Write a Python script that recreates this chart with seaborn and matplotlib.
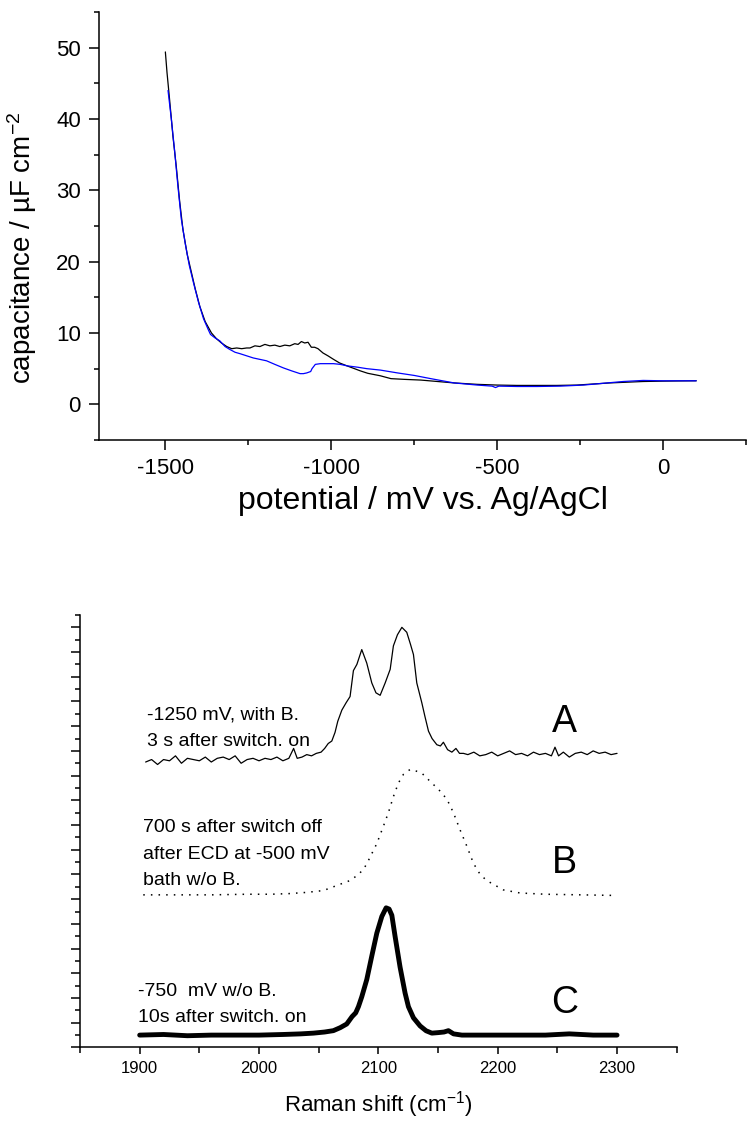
import matplotlib
matplotlib.use("Agg")
import matplotlib.pyplot as plt
import seaborn as sns
from matplotlib.ticker import MultipleLocator

# --- capacitance curves (top panel) ---
black_pot = [-1500, -1495, -1487, -1477, -1467, -1457, -1447, -1434, -1421, -1410,
             -1396, -1380, -1361, -1346, -1331, -1315, -1300, -1285, -1270, -1255,
             -1245, -1230, -1215, -1200, -1185, -1170, -1155, -1140, -1125, -1110,
             -1100, -1090, -1080, -1070, -1060, -1050, -1040, -1025, -1010, -993,
             -975, -953, -930, -913, -890, -852, -820, -780, -730, -680,
             -630, -560, -500, -440, -380, -320, -260, -210, -160, -110,
             -60, 0, 50, 100]
black_cap = [49.4, 46.5, 42.6, 37.5, 33.3, 28.5, 24.5, 21.0, 18.4, 16.2,
             13.7, 11.6, 10.0, 9.2, 8.6, 8.1, 7.8, 7.9, 7.8, 7.9,
             7.9, 8.2, 8.1, 8.4, 8.2, 8.3, 8.1, 8.3, 8.2, 8.5,
             8.4, 8.8, 8.6, 8.7, 8.0, 8.0, 7.8, 7.2, 6.8, 6.3,
             5.8, 5.4, 5.0, 4.7, 4.35, 4.0, 3.6, 3.5, 3.4, 3.2,
             3.0, 2.8, 2.7, 2.65, 2.65, 2.65, 2.7, 2.85, 3.0, 3.1,
             3.2, 3.25, 3.28, 3.3]

blue_pot = [-1492, -1482, -1472, -1462, -1452, -1440, -1428, -1415, -1400, -1385,
            -1370, -1364, -1350, -1336, -1320, -1306, -1290, -1275, -1255, -1235,
            -1215, -1195, -1170, -1144, -1120, -1094, -1084, -1074, -1062, -1058,
            -1048, -1033, -1013, -993, -973, -953, -920, -893, -852, -800,
            -750, -700, -630, -560, -515, -505, -495, -440, -380, -310,
            -240, -180, -120, -60, 0, 50, 100]
blue_cap = [44.0, 40.0, 35.5, 30.5, 26.0, 22.5, 19.5, 17.0, 14.3, 12.0,
            10.4, 9.8, 9.3, 8.9, 8.1, 7.7, 7.3, 7.1, 6.8, 6.5,
            6.3, 6.1, 5.6, 5.1, 4.7, 4.3, 4.3, 4.4, 4.6, 5.0,
            5.6, 5.7, 5.7, 5.7, 5.6, 5.4, 5.2, 5.0, 4.8, 4.4,
            4.05, 3.6, 3.0, 2.7, 2.55, 2.35, 2.55, 2.5, 2.5, 2.55,
            2.7, 2.95, 3.2, 3.35, 3.3, 3.3, 3.3]

# --- Raman spectra (bottom panel, offset intensities) ---
a_shift = [1905, 1910, 1915, 1920, 1925, 1930, 1935, 1940, 1945, 1950,
           1955, 1960, 1965, 1970, 1975, 1980, 1985, 1990, 1995, 2000,
           2005, 2010, 2015, 2020, 2025, 2029, 2032, 2036, 2040, 2044,
           2048, 2052, 2055, 2058, 2061, 2063.7, 2066, 2069.4, 2073, 2076.3,
           2079.1, 2082, 2086.1, 2090.3, 2094.5, 2098, 2101.5, 2105.7, 2109.9, 2112.6,
           2116, 2119.7, 2123.8, 2127, 2129.4, 2132.2, 2136.4, 2139, 2142, 2145,
           2149, 2152, 2154.5, 2158, 2161.6, 2165, 2168, 2171.3, 2175, 2180,
           2185, 2190, 2195, 2200, 2205, 2210, 2215, 2220, 2225, 2230,
           2235, 2240, 2245, 2248, 2251, 2255, 2260, 2265, 2270, 2275,
           2280, 2285, 2290, 2295, 2300]
a_int = [23.1, 23.3, 22.9, 23.3, 23.2, 23.6, 23.0, 23.4, 23.3, 23.2,
         23.5, 23.1, 23.4, 23.5, 23.3, 23.6, 23.0, 23.3, 23.4, 23.2,
         23.4, 23.3, 23.5, 23.2, 23.4, 24.2, 23.4, 23.5, 23.7, 23.6,
         23.8, 23.9, 24.2, 24.6, 24.8, 25.5, 26.4, 27.3, 27.9, 28.4,
         30.5, 31.0, 32.2, 31.1, 29.5, 28.7, 28.5, 29.5, 30.6, 32.5,
         33.4, 34.0, 33.6, 32.6, 31.8, 29.5, 27.9, 26.8, 25.6, 25.0,
         24.5, 24.4, 24.7, 24.1, 23.9, 24.2, 23.8, 23.8, 23.7, 23.9,
         23.6, 23.7, 23.9, 23.6, 23.8, 24.0, 23.7, 23.8, 23.6, 23.9,
         23.7, 23.8, 23.6, 24.3, 23.6, 23.9, 23.5, 23.8, 23.9, 23.7,
         24.0, 23.8, 23.9, 23.7, 23.8]

b_shift = [1903, 1930, 1960, 1990, 2010, 2025, 2040, 2054, 2065, 2076,
           2082, 2087.5, 2091, 2098.7, 2104.2, 2108.4, 2112.6, 2116.8, 2121, 2126.6,
           2130.8, 2136.4, 2144.8, 2150.3, 2157.4, 2162.9, 2168.5, 2174.1, 2179.7, 2185.3,
           2190.9, 2204.8, 2218.8, 2240, 2270, 2300]
b_int = [12.35, 12.35, 12.35, 12.4, 12.4, 12.45, 12.55, 12.7, 13.1, 13.5,
         13.9, 14.4, 15.0, 16.5, 17.9, 19.0, 20.3, 21.4, 22.1, 22.5,
         22.4, 22.2, 21.4, 20.9, 20.1, 19.0, 17.6, 16.3, 14.9, 14.0,
         13.5, 12.75, 12.5, 12.4, 12.35, 12.3]

c_shift = [1900, 1920, 1940, 1960, 1980, 2000, 2020, 2035, 2045.6, 2055,
           2062.3, 2068, 2073.5, 2078, 2081, 2083.3, 2086.1, 2090.3, 2094.5, 2098.7,
           2102.9, 2106.5, 2109, 2111.3, 2114, 2118.2, 2122.4, 2125.2, 2129.4, 2135,
           2140, 2144.8, 2150, 2155, 2158.7, 2163, 2170, 2185, 2200, 2220,
           2240, 2260, 2280, 2300]
c_int = [1.0, 1.05, 0.95, 1.0, 1.0, 1.0, 1.05, 1.1, 1.16, 1.25,
         1.36, 1.6, 1.9, 2.5, 2.8, 3.3, 4.1, 5.5, 7.4, 9.25,
         10.6, 11.3, 11.2, 10.7, 9.0, 6.5, 4.4, 3.3, 2.4, 1.74,
         1.35, 1.16, 1.2, 1.25, 1.36, 1.1, 1.0, 1.0, 1.0, 1.0,
         1.0, 1.1, 1.0, 1.0]

sns.set_style("ticks")
plt.rcParams["font.family"] = ["Liberation Sans", "DejaVu Sans"]
plt.rcParams["mathtext.default"] = "regular"
plt.rcParams["axes.unicode_minus"] = False
for key in ["text.color", "axes.labelcolor", "xtick.color", "ytick.color", "axes.edgecolor"]:
    plt.rcParams[key] = "black"

fig = plt.figure(figsize=(7.54, 11.21), dpi=100)

# top panel: capacitance vs potential
ax1 = fig.add_axes([0.1313, 0.6075, 0.8581, 0.3818])
sns.lineplot(x=black_pot, y=black_cap, ax=ax1, color="black", linewidth=0.9)
sns.lineplot(x=blue_pot, y=blue_cap, ax=ax1, color="#0000ff", linewidth=0.9)
ax1.set_xlim(-1700, 250)
ax1.set_ylim(-5, 55)
ax1.xaxis.set_major_locator(MultipleLocator(500))
ax1.xaxis.set_minor_locator(MultipleLocator(250))
ax1.yaxis.set_major_locator(MultipleLocator(10))
ax1.yaxis.set_minor_locator(MultipleLocator(5))
ax1.tick_params(which="major", direction="out", length=7, width=1.1, labelsize=16, pad=6)
ax1.tick_params(which="minor", direction="out", length=3.8, width=1.1)
ax1.set_xlabel("potential / mV vs. Ag/AgCl", fontsize=23, labelpad=5)
ax1.set_ylabel("capacitance / µF cm$^{-2}$", fontsize=20)
ax1.yaxis.set_label_coords(-0.093, 0.449)
for s in ["top", "right"]:
    ax1.spines[s].set_visible(False)
for s in ["left", "bottom"]:
    ax1.spines[s].set_linewidth(1.1)

# bottom panel: Raman spectra
ax2 = fig.add_axes([0.1061, 0.0656, 0.7914, 0.3858])
sns.lineplot(x=a_shift, y=a_int, ax=ax2, color="black", linewidth=0.9)
sns.lineplot(x=b_shift, y=b_int, ax=ax2, color="black", linewidth=1.1, linestyle=(0, (1, 4)))
sns.lineplot(x=c_shift, y=c_int, ax=ax2, color="black", linewidth=3.5)
ax2.set_xlim(1850, 2350)
ax2.set_ylim(0, 35)
ax2.xaxis.set_major_locator(MultipleLocator(100))
ax2.xaxis.set_minor_locator(MultipleLocator(50))
ax2.yaxis.set_major_locator(MultipleLocator(2))
ax2.yaxis.set_minor_locator(MultipleLocator(1))
ax2.tick_params(axis="x", which="major", direction="out", length=5, width=1.1, labelsize=12, pad=5)
ax2.tick_params(axis="x", which="minor", direction="out", length=4, width=1.1)
ax2.tick_params(axis="y", which="major", direction="out", length=6.5, width=1.1, labelleft=False)
ax2.tick_params(axis="y", which="minor", direction="out", length=3.6, width=1.1)
ax2.set_xlabel("Raman shift (cm$^{-1}$)", fontsize=16, labelpad=9)
for s in ["top", "right"]:
    ax2.spines[s].set_visible(False)
for s in ["left", "bottom"]:
    ax2.spines[s].set_linewidth(1.1)

ann = dict(fontsize=14, va="center", ha="left")
ax2.text(1906, 26.9, "-1250 mV, with B.", **ann)
ax2.text(1906, 24.8, "3 s after switch. on", **ann)
ax2.text(1903, 17.8, "700 s after switch off", **ann)
ax2.text(1903, 15.6, "after ECD at -500 mV", **ann)
ax2.text(1903, 13.5, "bath w/o B.", **ann)
ax2.text(1899, 4.5, "-750  mV w/o B.", **ann)
ax2.text(1899, 2.4, "10s after switch. on", **ann)
for lab, yy in [("A", 26.3), ("B", 14.9), ("C", 3.6)]:
    ax2.text(2256, yy, lab, fontsize=27, ha="center", va="center")

fig.savefig("out.png", dpi=100)
